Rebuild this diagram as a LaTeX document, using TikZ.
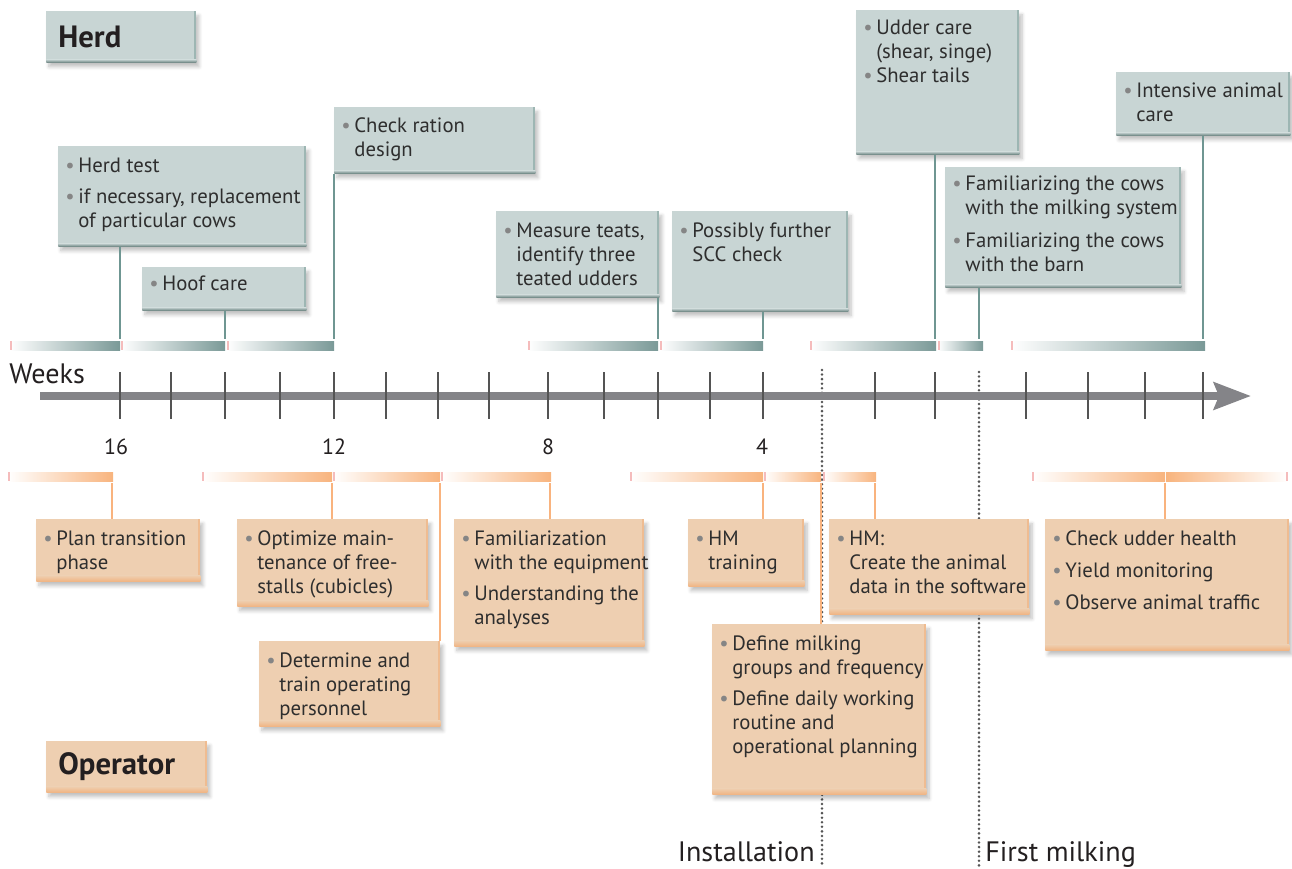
\documentclass[tikz,border=0pt]{standalone}
\usepackage{fontspec}
\setmainfont{PT Sans}
\usetikzlibrary{arrows.meta,shadows.blur,calc}
\definecolor{herdfill}{HTML}{C8D5D4}
\definecolor{herdedge}{HTML}{8AA8A5}
\definecolor{barteal}{HTML}{7A9997}
\definecolor{tealline}{HTML}{6F9692}
\definecolor{opfill}{HTML}{EECFB1}
\definecolor{opedge}{HTML}{F0B483}
\definecolor{barorange}{HTML}{F8B47E}
\definecolor{orangeline}{HTML}{F9B37E}
\definecolor{pinkmark}{HTML}{F5BCBC}
\definecolor{dotgray}{HTML}{858585}
\definecolor{textgray}{HTML}{2E2E2E}
\definecolor{titlegray}{HTML}{231F20}
\definecolor{axisgray}{HTML}{848488}
\definecolor{tickgray}{HTML}{545454}
\newcommand{\boxfont}{\fontsize{11.8}{13.66}\selectfont}
\newcommand{\bu}{\strut\makebox[0.26cm][l]{\textcolor{dotgray}{\textbullet}}}
\newcommand{\ct}{\hspace*{0.26cm}}
\tikzset{
    boxsize/.style 2 args = {minimum width=#1*0.02cm, minimum height=#2*0.02cm},
    herdbox/.style = {fill=herdfill, anchor=north west, inner sep=0pt,
        blur shadow={shadow xshift=1.5pt, shadow yshift=-2.5pt, shadow opacity=25, shadow blur steps=6},
        path picture={
            \fill [herdedge!70!herdfill] ([xshift=-0.04cm]path picture bounding box.north east) rectangle (path picture bounding box.south east);
            \shade [top color=herdfill, bottom color=herdedge!80!black] ([yshift=0.06cm]path picture bounding box.south west) rectangle (path picture bounding box.south east);}},
    opbox/.style = {fill=opfill, anchor=north west, inner sep=0pt,
        blur shadow={shadow xshift=1.5pt, shadow yshift=-2.5pt, shadow opacity=25, shadow blur steps=6},
        path picture={
            \fill [opedge!70!opfill] ([xshift=-0.05cm]path picture bounding box.north east) rectangle (path picture bounding box.south east);
            \shade [top color=opfill, bottom color=opedge] ([yshift=0.12cm]path picture bounding box.south west) rectangle (path picture bounding box.south east);}},
    boxtext/.style = {anchor=north west, inner sep=0pt, align=left, font=\boxfont, text=textgray},
    title/.style = {font=\fontsize{17.5}{20}\selectfont\bfseries, text=titlegray, align=left,
        inner xsep=0.24cm, minimum height=1.02cm},
    hline/.style = {draw=tealline, line width=1.1pt},
    oline/.style = {draw=orangeline, line width=1.1pt},
    tick/.style = {draw=tickgray, line width=1.4pt},
    milestone/.style = {draw=tickgray, line width=1.6pt, line cap=round, dash pattern=on 0pt off 2.6pt},
    axislabel/.style = {font=\fontsize{16}{19}\selectfont, text=titlegray, inner sep=0pt},
    weeknum/.style = {font=\fontsize{12.5}{14}\selectfont, text=titlegray, inner sep=0pt, anchor=base}
}

\begin{document}
\begin{tikzpicture}[x=0.02cm, y=-0.02cm]
    \useasboundingbox (0,0) rectangle (1292,869);

    % time axis positions
    \foreach \n/\x in {16/120, 15/171, 14/225, 13/280, 12/334, 11/386, 10/438, 9/489, 8/548, 7/604,
        6/658, 5/710, 4/763, 2/875, 1/935, a/1026, b/1088, c/1145, d/1203}
        \coordinate (wk\n) at (\x,396);
    \coordinate (install) at (822,396);
    \coordinate (firstmilk) at (979,396);
    \coordinate (hbar) at (0,339);

    \draw [milestone] ([yshift=0.52cm]install) -- ([yshift=-9.4cm]install);
    \draw [milestone] ([yshift=0.48cm]firstmilk) -- ([yshift=-9.4cm]firstmilk);

    % herd bars
    \foreach \a/\b in {10/120, 121/225, 227/334, 528/658, 660/763, 810/936, 938/983, 1011/1205} {
        \shade [left color=white, right color=barteal] (\a,341) rectangle (\b,350);
        \fill [pinkmark] (\a,341) rectangle ++(2,9);
    }
    % operator bars
    \foreach \a/\b in {8/113, 202/332, 333/440, 441/551, 630/763, 764/821, 823/876, 1032/1165} {
        \shade [left color=white, right color=barorange] (\a,472) rectangle (\b,481);
        \fill [pinkmark] (\a,472) rectangle ++(2,9);
    }
    \shade [left color=barorange, right color=white] (1166,472) rectangle (1288,481);
    \fill [pinkmark] (1286,472) rectangle ++(2,9);

    % axis
    \draw [axisgray, line width=4.3pt, -{Stealth[length=0.74cm, width=0.54cm, inset=0.1cm]}] (40,396) -- (1251,396);
    \foreach \n in {16,15,14,13,12,11,10,9,8,7,6,5,4,2,1,a,b,c,d}
        \draw [tick] ([yshift=0.48cm]wk\n) -- ([yshift=-0.46cm]wk\n);
    \node [axislabel, anchor=base west] (weeks) at (9,383) {Weeks};
    \node [weeknum] (n16) at (116,454) {16};
    \node [weeknum] (n12) at (334,454) {12};
    \node [weeknum] (n8) at (548,454) {8};
    \node [weeknum] (n4) at (762,454) {4};
    \node [axislabel, anchor=base east] (installtxt) at (815,861) {Installation};
    \node [axislabel, anchor=base west] (firsttxt) at (985,861) {First milking};

    % herd
    \node [herdbox, title, text width=2.52cm] (herd) at (46,11) {Herd};
    \node [herdbox, boxsize={248}{100}] (herdtest) at (58,146) {};
    \node [boxtext] (herdtest-t) at ([shift={(7,9)}]herdtest.north west)
        {\bu Herd test\\[0.14cm] \bu if necessary, replacement\\ \ct of particular cows};
    \node [herdbox, boxsize={164}{43}] (hoof) at (142,267) {};
    \node [boxtext] (hoof-t) at ([shift={(7,6)}]hoof.north west) {\bu Hoof care};
    \node [herdbox, boxsize={201}{66}] (ration) at (334,107) {};
    \node [boxtext] (ration-t) at ([shift={(7,8)}]ration.north west) {\bu Check ration\\ \ct design};
    \node [herdbox, boxsize={163}{86}] (teats) at (496,211) {};
    \node [boxtext] (teats-t) at ([shift={(7,9)}]teats.north west)
        {\bu Measure teats,\\ \ct identify three\\ \ct teated udders};
    \node [herdbox, boxsize={176}{100}] (scc) at (672,211) {};
    \node [boxtext] (scc-t) at ([shift={(7,9)}]scc.north west) {\bu Possibly further\\ \ct SCC check};
    \node [herdbox, boxsize={163}{144}] (udder) at (856,10) {};
    \node [boxtext] (udder-t) at ([shift={(7,7)}]udder.north west)
        {\bu Udder care\\ \ct (shear, singe)\\ \bu Shear tails};
    \node [herdbox, boxsize={236}{120}] (familiar) at (945,167) {};
    \node [boxtext] (familiar-t) at ([shift={(7,6)}]familiar.north west)
        {\bu Familiarizing the cows\\ \ct with the milking system\\[0.18cm] \bu Familiarizing the cows\\ \ct with the barn};
    \node [herdbox, boxsize={174}{63}] (intensive) at (1116,72) {};
    \node [boxtext] (intensive-t) at ([shift={(7,8)}]intensive.north west) {\bu Intensive animal\\ \ct care};

    \draw [hline] (herdtest.south -| wk16) -- (wk16 |- hbar);
    \draw [hline] (hoof.south -| wk14) -- (wk14 |- hbar);
    \draw [hline] (ration.south -| wk12) -- (wk12 |- hbar);
    \draw [hline] (teats.south -| wk6) -- (wk6 |- hbar);
    \draw [hline] (scc.south -| wk4) -- (wk4 |- hbar);
    \draw [hline] (udder.south -| wk1) -- (wk1 |- hbar);
    \draw [hline] (familiar.south -| firstmilk) -- (firstmilk |- hbar);
    \draw [hline] (intensive.south -| wkd) -- (wkd |- hbar);

    % operator
    \foreach \n/\x in {plan/112, optimize/332, determine/440, equip/550, hmtrain/763, define/821, hmcreate/875, check/1165}
        \coordinate (o\n) at (\x,483);
    \node [opbox, title, text width=2.74cm] (operator) at (46,741) {Operator};
    \node [opbox, boxsize={164}{62}] (plan) at (36,519) {};
    \node [boxtext] (plan-t) at ([shift={(7,9)}]plan.north west) {\bu Plan transition\\ \ct phase};
    \node [opbox, boxsize={191}{87}] (optimize) at (237,519) {};
    \node [boxtext] (optimize-t) at ([shift={(7,9)}]optimize.north west)
        {\bu Optimize main-\\ \ct tenance of free-\\ \ct stalls (cubicles)};
    \node [opbox, boxsize={181}{85}] (determine) at (259,641) {};
    \node [boxtext] (determine-t) at ([shift={(7,9)}]determine.north west)
        {\bu Determine and\\ \ct train operating\\ \ct personnel};
    \node [opbox, boxsize={190}{127}] (equip) at (454,519) {};
    \node [boxtext] (equip-t) at ([shift={(7,9)}]equip.north west)
        {\bu Familiarization\\ \ct with the equipment\\[0.14cm] \bu Understanding the\\ \ct analyses};
    \node [opbox, boxsize={116}{67}] (hmtrain) at (688,519) {};
    \node [boxtext] (hmtrain-t) at ([shift={(7,9)}]hmtrain.north west) {\bu HM\\ \ct training};
    \node [opbox, boxsize={200}{95}] (hmcreate) at (829,519) {};
    \node [boxtext] (hmcreate-t) at ([shift={(7,9)}]hmcreate.north west)
        {\bu HM:\\ \ct Create the animal\\ \ct data in the software};
    \node [opbox, boxsize={214}{170}] (define) at (712,624) {};
    \node [boxtext] (define-t) at ([shift={(7,9)}]define.north west)
        {\bu Define milking\\ \ct groups and frequency\\[0.14cm] \bu Define daily working\\ \ct routine and\\ \ct operational planning};
    \node [opbox, boxsize={244}{131}] (check) at (1045,519) {};
    \node [boxtext] (check-t) at ([shift={(7,9)}]check.north west)
        {\bu Check udder health\\[0.16cm] \bu Yield monitoring\\[0.16cm] \bu Observe animal traffic};

    \draw [oline] (oplan) -- (oplan |- plan.north);
    \draw [oline] (ooptimize) -- (ooptimize |- optimize.north);
    \draw [oline] (odetermine) -- (odetermine |- determine.north);
    \draw [oline] (oequip) -- (oequip |- equip.north);
    \draw [oline] (ohmtrain) -- (ohmtrain |- hmtrain.north);
    \draw [oline] (odefine) -- (odefine |- define.north);
    \draw [oline] (ohmcreate) -- (ohmcreate |- hmcreate.north);
    \draw [oline] (ocheck) -- (ocheck |- check.north);
\end{tikzpicture}
\end{document}
